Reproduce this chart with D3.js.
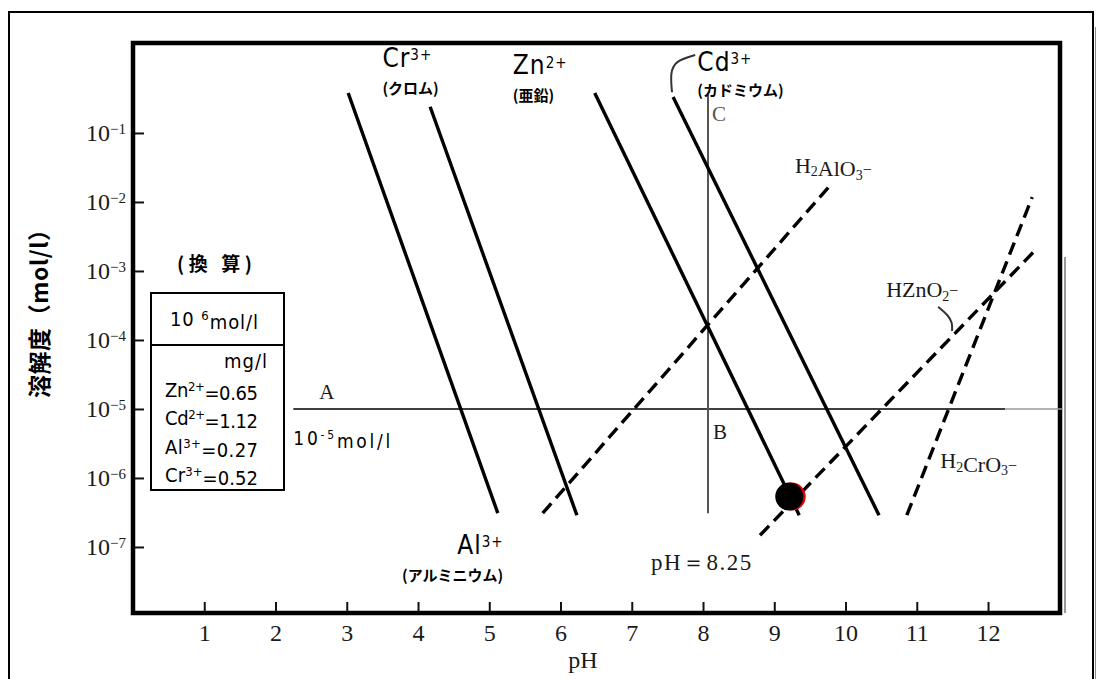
<!DOCTYPE html>
<html lang="ja">
<head>
<meta charset="utf-8">
<style>
  body { margin: 0; background: white; }
  svg { display: block; background: white; }
  .serif { font-family: 'Liberation Serif', 'DejaVu Serif', serif; fill: #1a1a1a; }
  .gothic { font-family: 'Liberation Sans Narrow', 'DejaVu Sans Condensed', 'Noto Sans CJK JP', sans-serif; fill: #000; }
  .jp { font-family: 'Noto Sans CJK JP', sans-serif; font-weight: bold; fill: #000; }
  .axis path.domain { display: none; }
  .axis line { stroke: #111; stroke-width: 2px; }
</style>
</head>
<body>
<svg width="1096" height="679"></svg>
<script src="https://cdn.jsdelivr.net/npm/d3@7"></script>
<script>
// ---- data (pH on x, log10 of solubility in mol/l on y) ----
const xTicks = [1, 2, 3, 4, 5, 6, 7, 8, 9, 10, 11, 12];
const yTickExps = [-1, -2, -3, -4, -5, -6, -7];

// metal ions, solid lines: [start, end]
const ionBase = ["Cr", "Al", "Zn", "Cd"];
const ionCharge = ["3+", "3+", "2+", "3+"];
const ionJP = ["(クロム)", "(アルミニウム)", "(亜鉛)", "(カドミウム)"];
const ionPH = [[3.02, 5.12], [4.17, 6.23], [6.48, 9.35], [7.58, 10.47]];
const ionLogS = [[-0.42, -6.51], [-0.62, -6.54], [-0.42, -6.54], [-0.48, -6.54]];

// complex anions, dashed lines
const anionNames = [["H", "2", "AlO", "3", "⁻"], ["HZnO", "2", "⁻"], ["H", "2", "CrO", "3", "⁻"]];
const anionPH = [[5.75, 9.81], [8.80, 12.69], [10.86, 12.62]];
const anionLogS = [[-6.51, -1.73], [-6.83, -2.67], [-6.54, -1.93]];

const limitLogS = -5;              // line A : 10^-5 mol/l
const limitPH = [2.25, 12.24, 13.05];
const bcPH = 8.07;                 // line B-C
const bcLogS = [-0.45, -6.51];
const minPoint = [9.21, -6.27];    // Zn minimum

const tableIons = ["Zn", "Cd", "Al", "Cr"];
const tableCharges = ["2+", "2+", "3+", "3+"];
const tableMgL = ["0.65", "1.12", "0.27", "0.52"];

// ---- layout ----
const width = 1096, height = 679;
const plot = { left: 133, right: 1060, top: 43, bottom: 613 };

const x = d3.scaleLinear().domain([0, 13.01]).range([plot.left, plot.right]);
const y = d3.scaleLinear().domain([-7.957, 0.304]).range([plot.bottom, plot.top]);
const line = d3.line().x(d => x(d[0])).y(d => y(d[1]));
const curve = d3.line().x(d => x(d[0])).y(d => y(d[1])).curve(d3.curveBasis);

const svg = d3.select("svg");

// outer frame
svg.append("path")
  .attr("d", "M9," + height + "V12H1093V" + height)
  .attr("fill", "none").attr("stroke", "#000").attr("stroke-width", 2);
svg.append("line").attr("x1", 1096).attr("x2", 1096).attr("y1", 27).attr("y2", height)
  .attr("stroke", "#888").attr("stroke-width", 2);

// axes
const xAxis = d3.axisBottom(x).tickValues(xTicks).tickSize(-11).tickPadding(11);
svg.append("g").attr("class", "axis x")
  .attr("transform", "translate(0," + plot.bottom + ")")
  .call(xAxis)
  .selectAll("text").attr("class", "serif").style("font-size", "24px");

const yAxis = d3.axisLeft(y).tickValues(yTickExps).tickSize(-11).tickPadding(7);
const yg = svg.append("g").attr("class", "axis y")
  .attr("transform", "translate(" + plot.left + ",0)")
  .call(yAxis);
yg.selectAll(".tick text").attr("class", "serif").style("font-size", "24px")
  .text(null)
  .each(function (d) {
    const t = d3.select(this);
    t.append("tspan").text("10");
    t.append("tspan").attr("dy", "-0.5em").style("font-size", "15px").text("−" + (-d));
  });

// plot frame
svg.append("rect")
  .attr("x", plot.left).attr("y", plot.top)
  .attr("width", plot.right - plot.left).attr("height", plot.bottom - plot.top)
  .attr("fill", "none").attr("stroke", "#000").attr("stroke-width", 4.5);
svg.append("line").attr("x1", 1065).attr("x2", 1065).attr("y1", 257).attr("y2", plot.bottom)
  .attr("stroke", "#999").attr("stroke-width", 2);

// line A (10^-5) and line B-C
svg.append("path")
  .attr("d", line([[limitPH[0], limitLogS], [limitPH[1], limitLogS]]))
  .attr("stroke", "#000").attr("stroke-width", 1.6);
svg.append("path")
  .attr("d", line([[limitPH[1], limitLogS], [limitPH[2], limitLogS]]))
  .attr("stroke", "#999").attr("stroke-width", 1.6);
svg.append("path")
  .attr("d", line([[bcPH, bcLogS[0]], [bcPH, bcLogS[1]]]))
  .attr("stroke", "#555").attr("stroke-width", 2);

// metal ion lines
svg.append("g").selectAll("path")
  .data(ionBase)
  .join("path")
  .attr("d", (d, i) => line(d3.zip(ionPH[i], ionLogS[i])))
  .attr("fill", "none").attr("stroke", "#000").attr("stroke-width", 3.4);

// anion lines (dashed)
svg.append("g").selectAll("path")
  .data(anionNames)
  .join("path")
  .attr("d", (d, i) => line(d3.zip(anionPH[i], anionLogS[i])))
  .attr("fill", "none").attr("stroke", "#000").attr("stroke-width", 3.4)
  .attr("stroke-dasharray", "13,7");

// Zn minimum point
svg.append("circle").attr("cx", x(minPoint[0]) + 2.5).attr("cy", y(minPoint[1])).attr("r", 14).attr("fill", "#e00000");
svg.append("circle").attr("cx", x(minPoint[0])).attr("cy", y(minPoint[1])).attr("r", 14).attr("fill", "#000");

// leaders
const cdLeader = [[7.565, -0.41], [7.54, -0.13], [7.61, 0.045], [7.89, 0.13]];
const znLeader = [[11.30, -3.52], [11.44, -3.64], [11.50, -3.75], [11.495, -3.87]];
[cdLeader, znLeader].forEach(p => {
  svg.append("path").attr("d", curve(p))
    .attr("fill", "none").attr("stroke", "#333").attr("stroke-width", 2);
});

// ion labels
const ionLabelPos = [[3.50, -0.04], [4.55, -7.10], [5.33, -0.15], [7.92, -0.10]];
const ionJPPos = [[3.50, -0.44], [3.775, -7.50], [5.33, -0.54], [7.92, -0.47]];
ionBase.forEach((b, i) => {
  const t = svg.append("text").attr("class", "gothic")
    .attr("x", x(ionLabelPos[i][0])).attr("y", y(ionLabelPos[i][1]))
    .style("font-size", "26px").attr("letter-spacing", "1px");
  t.append("tspan").text(b);
  t.append("tspan").attr("dy", "-0.45em").style("font-size", "15px").text(ionCharge[i]);
  svg.append("text").attr("class", "jp")
    .attr("x", x(ionJPPos[i][0])).attr("y", y(ionJPPos[i][1]))
    .style("font-size", "15px")
    .text(ionJP[i]);
});

// anion labels
const anionLabelPos = [[9.29, -1.58], [10.57, -3.38], [11.33, -5.86]];
anionNames.forEach((parts, i) => {
  const t = svg.append("text").attr("class", "serif")
    .attr("x", x(anionLabelPos[i][0])).attr("y", y(anionLabelPos[i][1]))
    .style("font-size", "22px");
  parts.forEach(s => {
    if (/^\d$/.test(s)) {
      t.append("tspan").attr("dy", "0.25em").style("font-size", "14px").text(s);
      t.append("tspan").attr("dy", "-0.25em").text("");
    } else if (s === "⁻") {
      t.append("tspan").attr("dy", "-0.3em").style("font-size", "16px").text("−");
    } else {
      t.append("tspan").text(s);
    }
  });
});

// other labels
svg.append("text").attr("class", "serif").attr("x", x(2.72)).attr("y", y(-4.86))
  .attr("text-anchor", "middle").style("font-size", "21px").text("A");
svg.append("text").attr("class", "serif").attr("x", x(8.14)).attr("y", y(-5.44))
  .style("font-size", "21px").text("B");
svg.append("text").attr("class", "serif").attr("x", x(8.125)).attr("y", y(-0.83))
  .style("font-size", "21px").style("fill", "#555").text("C");
svg.append("text").attr("class", "serif").attr("x", x(7.27)).attr("y", y(-7.34))
  .style("font-size", "23px").attr("letter-spacing", "1.5px")
  .text("pH＝8.25");
const lim = svg.append("text").attr("class", "gothic").attr("x", x(2.25)).attr("y", y(-5.52))
  .style("font-size", "19px").attr("textLength", 97).attr("lengthAdjust", "spacing");
lim.append("tspan").text("10");
lim.append("tspan").attr("dy", "-0.45em").style("font-size", "12px").text("-5");
lim.append("tspan").attr("dy", "0.45em").text("mol/l");

svg.append("text").attr("class", "serif").attr("x", 583).attr("y", 668)
  .attr("text-anchor", "middle").style("font-size", "24px").text("pH");

// y axis title
svg.append("text").attr("class", "jp")
  .attr("transform", "translate(38,308) rotate(-90)")
  .attr("text-anchor", "middle").attr("dominant-baseline", "central")
  .style("font-size", "23px").attr("textLength", 180).attr("lengthAdjust", "spacing")
  .text("溶解度（mol/l）");

// conversion table
svg.append("text").attr("class", "jp").attr("x", 177).attr("y", 271)
  .style("font-size", "19px").attr("textLength", 75).attr("lengthAdjust", "spacing")
  .text("(換 算)");
const box = svg.append("g");
box.append("rect").attr("x", 151).attr("y", 293).attr("width", 133).attr("height", 197)
  .attr("fill", "none").attr("stroke", "#000").attr("stroke-width", 2);
box.append("line").attr("x1", 151).attr("x2", 284).attr("y1", 345).attr("y2", 345)
  .attr("stroke", "#000").attr("stroke-width", 2);
const head = box.append("text").attr("class", "gothic").attr("x", 170).attr("y", 326)
  .style("font-size", "20px").attr("textLength", 88).attr("lengthAdjust", "spacing");
head.append("tspan").text("10 ");
head.append("tspan").attr("dy", "-0.45em").style("font-size", "13px").text("6");
head.append("tspan").attr("dy", "0.45em").text("mol/l");
box.append("text").attr("class", "gothic").attr("x", 224).attr("y", 368)
  .style("font-size", "20px").attr("textLength", 43).attr("lengthAdjust", "spacing")
  .text("mg/l");
const rowY = d3.scalePoint().domain(tableIons).range([397, 482]);
tableIons.forEach((ion, i) => {
  const t = box.append("text").attr("class", "gothic").attr("x", 165).attr("y", rowY(ion))
    .style("font-size", "20px").attr("textLength", 93).attr("lengthAdjust", "spacing");
  t.append("tspan").text(ion);
  t.append("tspan").attr("dy", "-0.45em").style("font-size", "13px").text(tableCharges[i]);
  t.append("tspan").attr("dy", "0.45em").text("=" + tableMgL[i]);
});
</script>
</body>
</html>
